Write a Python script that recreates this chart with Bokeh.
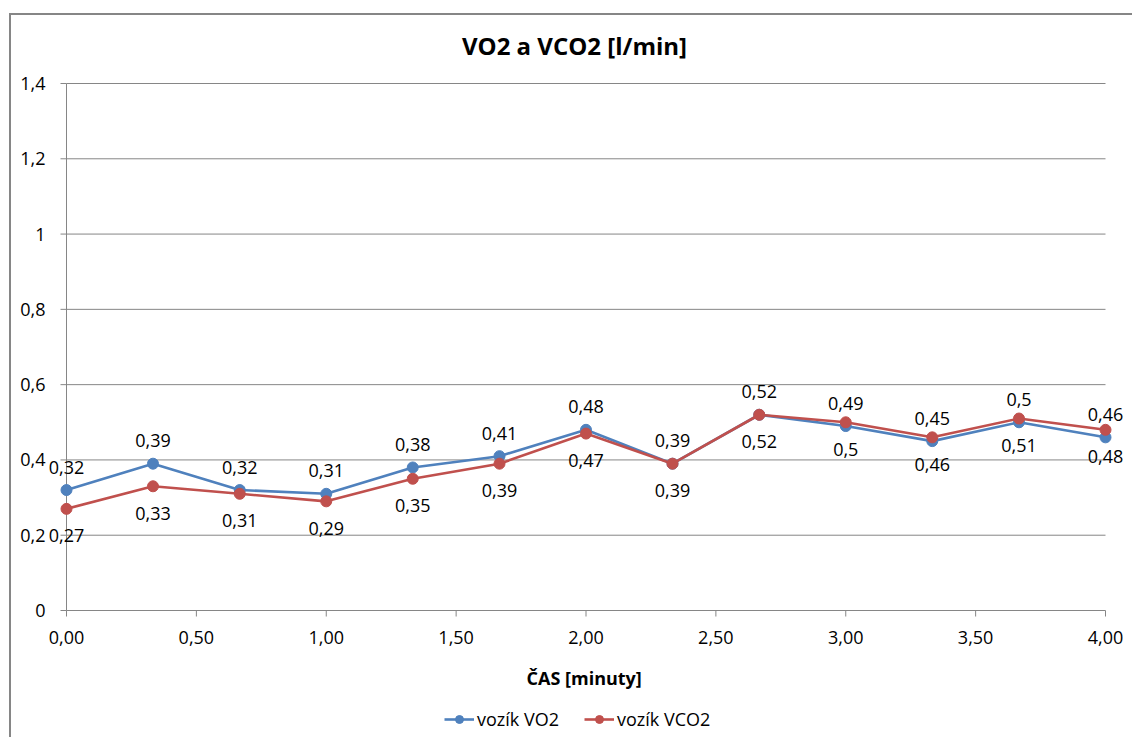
from bokeh.plotting import figure
from bokeh.models import (ColumnDataSource, Label, LabelSet, Legend,
                          LegendItem, Range1d)
from bokeh.core.properties import value
from bokeh.embed import file_html
from bokeh.resources import INLINE

# Measurements every 20 s: oxygen uptake and CO2 output [l/min]
time_min = [0.0, 0.333, 0.667, 1.0, 1.333, 1.667, 2.0, 2.333, 2.667, 3.0, 3.333, 3.667, 4.0]
vo2 = [0.32, 0.39, 0.32, 0.31, 0.38, 0.41, 0.48, 0.39, 0.52, 0.49, 0.45, 0.50, 0.46]
vco2 = [0.27, 0.33, 0.31, 0.29, 0.35, 0.39, 0.47, 0.39, 0.52, 0.50, 0.46, 0.51, 0.48]

x_ticks = [0.0, 0.5, 1.0, 1.5, 2.0, 2.5, 3.0, 3.5, 4.0]
x_tick_labels = ["0,00", "0,50", "1,00", "1,50", "2,00", "2,50", "3,00", "3,50", "4,00"]
y_ticks = [0.0, 0.2, 0.4, 0.6, 0.8, 1.0, 1.2, 1.4]
y_tick_labels = ["0", "0,2", "0,4", "0,6", "0,8", "1", "1,2", "1,4"]

series_names = ["vozík VO2", "vozík VCO2"]
series_colors = ["#4F81BD", "#C0504D"]

chart_title = "VO2 a VCO2 [l/min]"
x_title = "ČAS  [minuty]"

FONT = "Open Sans"
AXIS_GRAY = "#868686"


def fmt(v):
    return f"{v:g}".replace(".", ",")


# canvas geometry (pixels); the value area sits inset inside the canvas
FRAME_W, FRAME_H = 1121, 722
AREA_LEFT, AREA_RIGHT = 55, 27
AREA_TOP, AREA_BOTTOM = 68, 127
x_span = x_ticks[-1] - x_ticks[0]
y_span = y_ticks[-1] - y_ticks[0]
px_x = (FRAME_W - AREA_LEFT - AREA_RIGHT) / x_span
px_y = (FRAME_H - AREA_TOP - AREA_BOTTOM) / y_span

p = figure(
    frame_width=FRAME_W, frame_height=FRAME_H,
    x_range=Range1d(x_ticks[0] - AREA_LEFT / px_x, x_ticks[-1] + AREA_RIGHT / px_x),
    y_range=Range1d(y_ticks[0] - AREA_BOTTOM / px_y, y_ticks[-1] + AREA_TOP / px_y),
    output_backend="svg", toolbar_location=None,
    min_border_left=0, min_border_right=0,
    min_border_top=0, min_border_bottom=0,
)
p.margin = (13, 0, 0, 9)
p.styles = {"border-top": f"2px solid {AXIS_GRAY}",
            "border-left": f"2px solid {AXIS_GRAY}"}
p.outline_line_color = None
p.background_fill_color = "white"
p.border_fill_color = "white"
p.xgrid.visible = False
p.ygrid.visible = False
p.xaxis.visible = False
p.yaxis.visible = False

# chart title
p.add_layout(Label(x=563, y=692, x_units="screen", y_units="screen",
                   text=chart_title, text_align="center", text_baseline="middle",
                   text_font=FONT, text_font_style="bold",
                   text_font_size="24px", text_color="black"))

# horizontal gridlines, value axis line, its tick marks and labels
tick_x = 6 / px_x
tick_y = 6 / px_y
p.segment(x0=x_ticks[0], x1=x_ticks[-1], y0=y_ticks[1:], y1=y_ticks[1:],
          line_color=AXIS_GRAY, line_width=1)
p.segment(x0=x_ticks[0], x1=x_ticks[0], y0=y_ticks[0], y1=y_ticks[-1],
          line_color=AXIS_GRAY, line_width=1)
p.segment(x0=x_ticks[0] - tick_x, x1=x_ticks[0], y0=y_ticks, y1=y_ticks,
          line_color=AXIS_GRAY, line_width=1)
p.text(x=[x_ticks[0]] * len(y_ticks), y=y_ticks, text=y_tick_labels,
       x_offset=-21, text_align="right", text_baseline="middle",
       text_font=value(FONT), text_font_size="18px", text_color="black")

# time axis: line, tick marks, tick labels and title
p.segment(x0=x_ticks[0], x1=x_ticks[-1], y0=y_ticks[0], y1=y_ticks[0],
          line_color=AXIS_GRAY, line_width=1)
p.segment(x0=x_ticks, x1=x_ticks, y0=[y_ticks[0]] * len(x_ticks),
          y1=[y_ticks[0] - tick_y] * len(x_ticks),
          line_color=AXIS_GRAY, line_width=1)
xtick_src = ColumnDataSource(dict(x=x_ticks, y=[y_ticks[0]] * len(x_ticks),
                                  lbl=x_tick_labels))
p.add_layout(LabelSet(x="x", y="y", text="lbl", source=xtick_src,
                      y_offset=-27, text_align="center", text_baseline="middle",
                      text_font=value(FONT), text_font_size="18px",
                      text_color="black"))
p.add_layout(Label(x=575, y=60, x_units="screen", y_units="screen",
                   text=x_title, text_align="center", text_baseline="middle",
                   text_font=FONT, text_font_style="bold",
                   text_font_size="18px", text_color="black"))

# series with value labels (first series above, second below)
items = []
label_offsets = [23, -27]
for name, color, vals, off in zip(series_names, series_colors, [vo2, vco2], label_offsets):
    src = ColumnDataSource(dict(x=time_min, y=vals, lbl=[fmt(v) for v in vals]))
    ln = p.line("x", "y", source=src, line_color=color, line_width=2.6)
    sc = p.scatter("x", "y", source=src, size=11, marker="circle",
                   fill_color=color, line_color=color)
    items.append(LegendItem(label=name, renderers=[ln, sc]))
    p.add_layout(LabelSet(x="x", y="y", text="lbl", source=src,
                          y_offset=off, text_align="center", text_baseline="middle",
                          text_font=value(FONT), text_font_size="18px",
                          text_color="black"))

legend = Legend(items=items, orientation="horizontal", location=(433, 6),
                glyph_width=30, glyph_height=20, label_standoff=3, spacing=25,
                padding=0, margin=0, border_line_color=None,
                background_fill_alpha=0, label_text_font=FONT,
                label_text_font_size="18px", label_text_color="black")
p.add_layout(legend, "center")

open("out.html", "w").write(file_html(p, INLINE))
